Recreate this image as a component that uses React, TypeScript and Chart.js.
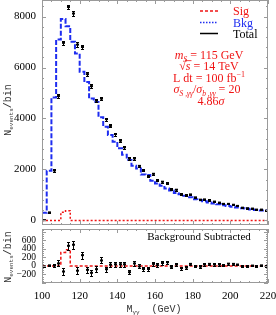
import React, { useEffect, useRef } from 'react';
import { Chart, registerables } from 'chart.js';
Chart.register(...registerables);

// ---------------- DATA ----------------
const binEdges = [100, 102.5, 105, 107.5, 110, 112.5, 115, 117.5, 120, 122.5, 125, 127.5, 130, 132.5, 135, 137.5, 140, 142.5, 145, 147.5, 150, 152.5, 155, 157.5, 160, 162.5, 165, 167.5, 170, 172.5, 175, 177.5, 180, 182.5, 185, 187.5, 190, 192.5, 195, 197.5, 200, 202.5, 205, 207.5, 210, 212.5, 215, 217.5, 220];
const bkg = [20, 300, 1950, 4820, 7100, 7900, 7620, 7010, 6550, 5830, 5430, 4780, 4650, 4050, 3680, 3350, 3090, 2830, 2580, 2370, 2150, 2040, 1800, 1780, 1560, 1450, 1360, 1250, 1170, 1080, 1030, 970, 910, 830, 790, 750, 705, 665, 630, 595, 565, 535, 505, 480, 455, 430, 410, 390];
const sig = [0, 0, 0, 0, 0, 320, 380, 0, 0, 0, 0, 0, 0, 0, 0, 0, 0, 0, 0, 0, 0, 0, 0, 0, 0, 0, 0, 0, 0, 0, 0, 0, 0, 0, 0, 0, 0, 0, 0, 0, 0, 0, 0, 0, 0, 0, 0, 0];
const residual = [-10, 15, 10, 60, -130, 475, 500, -110, 255, -90, -160, -75, 130, -75, 30, 40, 40, 40, -145, 60, -10, -70, -70, 50, 20, 70, 90, -20, 35, -50, -35, 50, -5, -15, 35, 50, 35, 35, 20, 55, 50, 35, -5, 0, 10, -5, 15, -5];
const errors = [10, 20, 45, 70, 85, 92, 90, 84, 82, 76, 73, 69, 70, 63, 61, 58, 56, 53, 51, 49, 46, 45, 42, 43, 40, 39, 38, 35, 35, 33, 32, 31, 30, 29, 28, 28, 27, 26, 25, 25, 24, 23, 22, 22, 21, 21, 20, 20];
const xTicks = [100, 120, 140, 160, 180, 200, 220];
const topYTicks = [0, 2000, 4000, 6000, 8000];
const botYTicks = [-200, 0, 200, 400, 600];

// derived tables
const centers = binEdges.slice(0, -1).map((e, i) => (e + binEdges[i + 1]) / 2);
const total = bkg.map((b, i) => b + residual[i]);
const stepData = (vals: number[]) => binEdges.map((e, i) => ({ x: e, y: vals[Math.min(i, vals.length - 1)] }));

const SERIF = "'Liberation Serif', 'Times New Roman', serif";
const MONO = "'Liberation Mono', 'DejaVu Sans Mono', monospace";
const RED = 'rgb(240,20,20)';
const BLUE = 'rgb(30,45,240)';

type Seg = { t: string; size?: number; dy?: number; italic?: boolean; family?: string; over?: boolean };
function drawRich(ctx: CanvasRenderingContext2D, segs: Seg[], x: number, y: number, align: 'center' | 'left', color: string, baseSize: number, family: string) {
  ctx.save();
  ctx.fillStyle = color;
  ctx.strokeStyle = color;
  ctx.textBaseline = 'alphabetic';
  ctx.textAlign = 'left';
  const fontOf = (s: Seg) => `${s.italic ? 'italic ' : ''}${s.size ?? baseSize}px ${s.family ?? family}`;
  const widths = segs.map((s) => { ctx.font = fontOf(s); return ctx.measureText(s.t).width; });
  const totalW = widths.reduce((a, b) => a + b, 0);
  let cx = align === 'center' ? x - totalW / 2 : x;
  segs.forEach((s, i) => {
    ctx.font = fontOf(s);
    ctx.fillText(s.t, cx, y + (s.dy ?? 0));
    if (s.over) {
      const sz = s.size ?? baseSize;
      ctx.lineWidth = 0.8;
      ctx.beginPath();
      ctx.moveTo(cx - 1, y - sz * 0.78);
      ctx.lineTo(cx + widths[i] + 1, y - sz * 0.78);
      ctx.stroke();
    }
    cx += widths[i];
  });
  ctx.restore();
}

function makeErrorBars(vals: number[]) {
  return {
    id: 'errbars',
    afterDatasetsDraw(chart: any) {
      const { ctx, scales } = chart;
      const x = scales.x, y = scales.y;
      ctx.save();
      ctx.strokeStyle = '#000';
      ctx.fillStyle = '#000';
      ctx.lineWidth = 1;
      centers.forEach((c, i) => {
        const px = Math.round(x.getPixelForValue(c)) + 0.5;
        const v = vals[i];
        const y1 = Math.round(y.getPixelForValue(v + errors[i])) + 0.5;
        const y2 = Math.round(y.getPixelForValue(v - errors[i])) + 0.5;
        const yc = y.getPixelForValue(v);
        ctx.beginPath();
        ctx.moveTo(px, y1); ctx.lineTo(px, y2);
        ctx.moveTo(px - 1.5, y1); ctx.lineTo(px + 1.5, y1);
        ctx.moveTo(px - 1.5, y2); ctx.lineTo(px + 1.5, y2);
        ctx.stroke();
        ctx.fillRect(px - 1.5, yc - 1, 3, 2);
      });
      ctx.restore();
    },
  };
}

function makeFrame(yMinorStep: number, yMajorStep: number) {
  return {
    id: 'frame',
    afterDraw(chart: any) {
      const { ctx, chartArea: a, scales } = chart;
      const x = scales.x, y = scales.y;
      ctx.save();
      ctx.strokeStyle = '#9a9a9a';
      ctx.lineWidth = 1;
      ctx.strokeRect(a.left + 0.5, a.top + 0.5, a.right - a.left - 1, a.bottom - a.top - 1);
      ctx.beginPath();
      for (let v = 100; v <= 220; v += 5) {
        const px = Math.round(x.getPixelForValue(v)) + 0.5;
        const len = v % 20 === 0 ? 4 : 2;
        ctx.moveTo(px, a.bottom); ctx.lineTo(px, a.bottom - len);
        ctx.moveTo(px, a.top); ctx.lineTo(px, a.top + len);
      }
      const lo = Math.ceil(y.min / yMinorStep) * yMinorStep;
      for (let v = lo; v <= y.max; v += yMinorStep) {
        const py = Math.round(y.getPixelForValue(v)) + 0.5;
        const len = v % yMajorStep === 0 ? 4 : 2;
        ctx.moveTo(a.left, py); ctx.lineTo(a.left + len, py);
        ctx.moveTo(a.right, py); ctx.lineTo(a.right - len, py);
      }
      ctx.stroke();
      ctx.restore();
    },
  };
}

function drawYTitle(ctx: CanvasRenderingContext2D, x: number, yc: number) {
  ctx.save();
  ctx.translate(x, yc);
  ctx.rotate(-Math.PI / 2);
  drawRich(ctx, [
    { t: 'N', size: 10 },
    { t: 'events', size: 6, dy: 2 },
    { t: '/bin', size: 10 },
  ], 0, 0, 'center', '#333', 10, MONO);
  ctx.restore();
}

const topDecor = {
  id: 'topDecor',
  afterDraw(chart: any) {
    const ctx: CanvasRenderingContext2D = chart.ctx;
    // legend
    const items = [
      { label: 'Sig', color: RED, dash: [3, 2], w: 1.5, y: 11 },
      { label: 'Bkg', color: BLUE, dash: [1.5, 1.5], w: 1.5, y: 22.5 },
      { label: 'Total', color: '#000', dash: [], w: 1.5, y: 33.5 },
    ];
    items.forEach((it) => {
      ctx.save();
      ctx.strokeStyle = it.color;
      ctx.lineWidth = it.w;
      ctx.setLineDash(it.dash);
      ctx.beginPath();
      ctx.moveTo(200, it.y); ctx.lineTo(218, it.y);
      ctx.stroke();
      ctx.restore();
      drawRich(ctx, [{ t: it.label }], 233, it.y + 4, 'left', it.color, 12, SERIF);
    });
    // annotation
    const cx = 209;
    drawRich(ctx, [{ t: 'm', italic: true }, { t: 'S', size: 8, dy: 3, italic: true }, { t: ' = 115 GeV' }], cx, 59, 'center', RED, 12, SERIF);
    drawRich(ctx, [{ t: '√' }, { t: 's', italic: true, over: true }, { t: ' = 14 TeV' }], cx, 70, 'center', RED, 12, SERIF);
    drawRich(ctx, [{ t: 'L dt = 100 fb' }, { t: '−1', size: 8, dy: -5 }], cx, 81.5, 'center', RED, 12, SERIF);
    drawRich(ctx, [
      { t: 'σ', italic: true }, { t: 'S ,γγ', size: 7.5, dy: 3, italic: true },
      { t: '/' },
      { t: 'σ', italic: true }, { t: 'b ,γγ', size: 7.5, dy: 3, italic: true },
      { t: ' = 20' },
    ], cx - 2, 93, 'center', RED, 12, SERIF);
    drawRich(ctx, [{ t: '4.86' }, { t: 'σ', italic: true }], cx + 2, 104.5, 'center', RED, 12, SERIF);
    drawYTitle(ctx, 11, 110);
  },
};

const botDecor = {
  id: 'botDecor',
  afterDraw(chart: any) {
    const ctx: CanvasRenderingContext2D = chart.ctx;
    drawRich(ctx, [{ t: 'Background Subtracted' }], 199, 12, 'center', '#000', 11, SERIF);
    drawYTitle(ctx, 11, 29);
    drawRich(ctx, [{ t: 'M', size: 10 }, { t: 'γγ', size: 6, dy: 2 }, { t: '  (GeV)', size: 10 }], 154, 84, 'center', '#333', 10, MONO);
  },
};

const fmt = (v: any) => (v < 0 ? '−' + Math.abs(v) : String(v));

export default function App() {
  const topRef = useRef<HTMLCanvasElement>(null);
  const botRef = useRef<HTMLCanvasElement>(null);

  useEffect(() => {
    const yAxisFit = (s: any) => { s.width = 42; s.paddingTop = 0; s.paddingBottom = 0; };

    const top = new Chart(topRef.current!, {
      type: 'line',
      data: {
        datasets: [
          { label: 'Bkg', data: stepData(bkg), stepped: 'after', borderColor: BLUE, borderWidth: 2, borderDash: [5, 2], pointRadius: 0, fill: false },
          { label: 'Sig', data: stepData(sig), stepped: 'after', borderColor: RED, borderWidth: 1.5, borderDash: [2, 2], pointRadius: 0, fill: false },
        ],
      },
      options: {
        animation: false,
        responsive: false,
        devicePixelRatio: 1,
        layout: { padding: { left: 0, right: 8, top: 0, bottom: 3 } },
        plugins: { legend: { display: false }, tooltip: { enabled: false } },
        scales: {
          x: { type: 'linear', min: 100, max: 220, display: false },
          y: {
            type: 'linear', min: -180, max: 8650,
            grid: { display: false, drawTicks: false },
            border: { display: false },
            afterBuildTicks: (s: any) => { s.ticks = topYTicks.map((v) => ({ value: v })); },
            afterFit: yAxisFit,
            ticks: { padding: 6, autoSkip: false, color: '#000', font: { family: SERIF, size: 11 }, callback: fmt },
          },
        },
      },
      plugins: [makeErrorBars(total), makeFrame(400, 2000), topDecor],
    } as any);

    const bot = new Chart(botRef.current!, {
      type: 'line',
      data: {
        datasets: [
          { label: 'Sig', data: stepData(sig), stepped: 'after', borderColor: RED, borderWidth: 1.5, borderDash: [3, 2], pointRadius: 0, fill: false },
        ],
      },
      options: {
        animation: false,
        responsive: false,
        devicePixelRatio: 1,
        layout: { padding: { left: 0, right: 8, top: 1, bottom: 0 } },
        plugins: { legend: { display: false }, tooltip: { enabled: false } },
        scales: {
          x: {
            type: 'linear', min: 100, max: 220,
            grid: { display: false, drawTicks: false },
            border: { display: false },
            afterBuildTicks: (s: any) => { s.ticks = xTicks.map((v) => ({ value: v })); },
            afterFit: (s: any) => { s.height = 32; s.paddingLeft = 0; s.paddingRight = 0; },
            ticks: { padding: 7, autoSkip: false, maxRotation: 0, color: '#000', font: { family: SERIF, size: 11 }, callback: fmt },
          },
          y: {
            type: 'linear', min: -400, max: 870,
            grid: { display: false, drawTicks: false },
            border: { display: false },
            afterBuildTicks: (s: any) => { s.ticks = botYTicks.map((v) => ({ value: v })); },
            afterFit: yAxisFit,
            ticks: { padding: 6, autoSkip: false, color: '#000', font: { family: SERIF, size: 9.5 }, callback: fmt },
          },
        },
      },
      plugins: [makeErrorBars(residual), makeFrame(50, 200), botDecor],
    } as any);

    return () => { top.destroy(); bot.destroy(); };
  }, []);

  return (
    <div style={{ position: 'fixed', left: 0, top: 0, width: 276, height: 315, background: '#fff' }}>
      <canvas ref={topRef} width={276} height={228} style={{ position: 'absolute', left: 0, top: 0, width: 276, height: 228 }} />
      <canvas ref={botRef} width={276} height={87} style={{ position: 'absolute', left: 0, top: 228, width: 276, height: 87 }} />
    </div>
  );
}
